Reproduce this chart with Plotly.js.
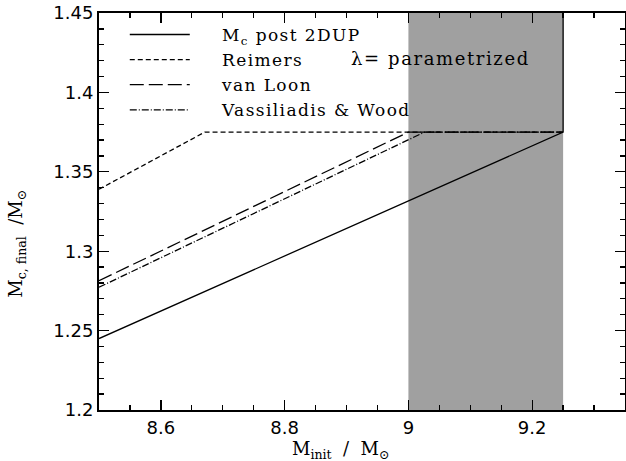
<!DOCTYPE html>
<html>
<head>
<meta charset="utf-8">
<script src="https://cdn.plot.ly/plotly-3.0.1.min.js"></script>
<style>
html,body{margin:0;padding:0;background:#fff}
#chart{width:626px;height:461px}
.legendtext{letter-spacing:1.4px}
.annotation-text.wide{letter-spacing:1.6px}
</style>
</head>
<body>
<div id="chart"></div>
<script>
// Data
const coreX = [8.5, 9.25, 9.25];
const coreY = [1.245, 1.375, 1.45];
const reimersX = [8.5, 8.671, 9.25];
const reimersY = [1.339, 1.375, 1.375];
const vanLoonX = [8.5, 9.0, 9.25];
const vanLoonY = [1.2814, 1.375, 1.375];
const vwX = [8.5, 9.026, 9.25];
const vwY = [1.2773, 1.375, 1.375];
const bandX = [9.0, 9.25];
const bandY = [1.2, 1.45];
const names = ["M<sub>c</sub> post 2DUP", "Reimers", "van Loon", "Vassiliadis &amp; Wood"];
const xTicks = [8.6, 8.8, 9, 9.2];
const xTickText = ['8.6', '8.8', '9', '9.2'];
const yTicks = [1.2, 1.25, 1.3, 1.35, 1.4, 1.45];
const yTickText = ['1.2', '1.25', '1.3', '1.35', '1.4', '1.45'];

const pad = "\u00a0\u00a0\u00a0\u00a0";
const lw = 1.3;
const traces = [
  {x: [bandX[0], bandX[1], bandX[1], bandX[0], bandX[0]],
   y: [bandY[0], bandY[0], bandY[1], bandY[1], bandY[0]],
   mode: 'lines', fill: 'toself', fillcolor: '#a0a0a0', line: {width: 0}, showlegend: false, hoverinfo: 'skip'},
  {x: coreX, y: coreY, mode: 'lines', name: pad + names[0], line: {color: '#000', width: lw}},
  {x: reimersX, y: reimersY, mode: 'lines', name: pad + names[1], line: {color: '#000', width: lw, dash: '5px,3px'}},
  {x: vanLoonX, y: vanLoonY, mode: 'lines', name: pad + names[2], line: {color: '#000', width: lw, dash: '14px,5px'}},
  {x: vwX, y: vwY, mode: 'lines', name: pad + names[3], line: {color: '#000', width: lw, dash: '7px,2px,1px,2px'}}
];

const tickFont = {family: 'DejaVu Sans', size: 18, color: '#000'};
const axisCommon = {
  showgrid: false, zeroline: false, showline: true, linecolor: '#000', linewidth: 2,
  mirror: 'ticks', ticks: 'inside', ticklen: 10, tickwidth: 1.3, tickcolor: '#000',
  tickfont: tickFont
};
const layout = {
  width: 626, height: 461,
  margin: {l: 99, r: 1, t: 13, b: 51},
  paper_bgcolor: '#fff', plot_bgcolor: '#fff',
  showlegend: true,
  legend: {x: 0.049, y: 0.99, xanchor: 'left', yanchor: 'top', bgcolor: 'rgba(0,0,0,0)',
    font: {family: 'DejaVu Serif', size: 17, color: '#000'}, itemwidth: 60, tracegroupgap: 0},
  xaxis: Object.assign({}, axisCommon, {range: [8.5, 9.35], tickvals: xTicks, ticktext: xTickText,
    minor: {dtick: 0.05, tick0: 8.5, ticks: 'inside', ticklen: 5, tickwidth: 1.3, tickcolor: '#000'}}),
  yaxis: Object.assign({}, axisCommon, {range: [1.2, 1.45], tickvals: yTicks, ticktext: yTickText,
    minor: {dtick: 0.01, tick0: 1.2, ticks: 'inside', ticklen: 5, tickwidth: 1.3, tickcolor: '#000'}}),
  annotations: [
    {text: 'λ= parametrized', xref: 'paper', yref: 'paper', x: 0.65, y: 0.886, xanchor: 'center', yanchor: 'middle', showarrow: false,
     font: {family: 'DejaVu Serif', size: 18, color: '#000'}},
    {text: 'M<sub>init</sub>  /  M<sub>⊙</sub>', xref: 'paper', yref: 'paper', x: 0.46, y: -0.065, xanchor: 'center', yanchor: 'top', showarrow: false,
     font: {family: 'DejaVu Serif', size: 18, color: '#000'}},
    {text: 'M<sub>c, final</sub>  /M<sub>⊙</sub>', xref: 'paper', yref: 'paper', x: -0.155, y: 0.42, xanchor: 'center', yanchor: 'middle', textangle: -90, showarrow: false,
     font: {family: 'DejaVu Serif', size: 18, color: '#000'}}
  ]
};
Plotly.newPlot('chart', traces, layout, {displayModeBar: false, staticPlot: true}).then(function (gd) {
  const ann = gd.querySelectorAll('.annotation-text');
  if (ann.length) ann[0].classList.add('wide');
});
</script>
</body>
</html>
